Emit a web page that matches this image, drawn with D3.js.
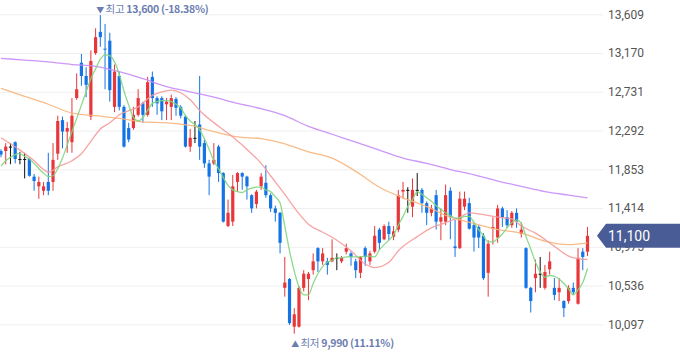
<!DOCTYPE html>
<html><head><meta charset="utf-8">
<script src="https://cdn.jsdelivr.net/npm/d3@7"></script>
<style>
html,body{margin:0;padding:0;background:#fff;}
svg{display:block;}
</style></head>
<body>
<svg id="chart" width="680" height="358"></svg>
<script>
// ---- data ----
const days = d3.range(1, 126);
const open = [12060,12060,12110,12160,11970,11970,11970,11770,11660,11610,11710,11710,12030,12410,12280,12160,12660,13060,12910,12450,13170,13410,13220,13310,12560,12910,12560,12320,12320,12470,12600,12470,12900,12660,12660,12590,12560,12650,12560,12450,12110,12210,12360,12150,11920,11920,12110,11810,11210,11260,11710,11810,11770,11560,11460,11660,11700,11560,11410,11360,10510,10610,10070,10070,10510,10610,10710,10960,10810,10810,10810,10850,10810,10920,10900,10810,10680,10960,10810,10920,11170,11060,11210,11090,11170,11600,11620,11430,11620,11620,11470,11360,11560,11260,11260,11610,10980,10960,11430,11470,11220,11200,11100,10680,11180,11080,11410,11310,11220,11360,11120,10960,10510,10620,10670,10510,10720,10510,10460,10360,10360,10510,10330,10920,10920];
const high = [12080,12150,12150,12170,12050,12040,11980,11800,11770,11710,12040,12150,12460,12450,12390,12660,12940,13160,13010,13200,13450,13600,13500,13400,13040,12960,12580,12380,12560,12760,12620,12900,12960,12680,12680,12660,12700,12670,12580,12470,12310,12400,12910,12190,11960,12150,12130,11820,11510,11790,11820,11820,11780,11570,11620,11810,11900,11580,11440,11370,10860,10620,10280,10530,10710,10690,10900,10970,10960,10850,11060,10900,10870,11010,10920,10840,10870,10980,10930,11210,11190,11230,11260,11210,11620,11710,11650,11750,11810,11640,11490,11450,11620,11410,11680,11650,11280,11600,11600,11530,11250,11220,11130,11050,11310,11450,11430,11390,11380,11410,11250,10970,10520,10830,10860,10770,10920,10620,10620,10370,10540,10570,10960,10960,11200];
const low = [11990,11910,11910,11920,11910,11750,11770,11610,11520,11560,11560,11610,11960,12090,12040,12040,12640,12800,12670,12410,13150,13240,12760,12620,12500,12520,12100,12160,12300,12450,12380,12450,12560,12470,12410,12410,12410,12460,12430,12100,12050,12150,11960,11870,11560,11900,11710,11250,11200,11210,11600,11620,11510,11360,11410,11620,11530,11370,11260,10900,10410,10090,9990,10060,10470,10370,10660,10690,10770,10660,10800,10710,10790,10890,10760,10620,10620,10760,10770,10900,10940,11050,11050,11050,11140,11520,11360,11310,11550,11360,11220,11320,11170,11050,11220,11060,10860,10950,11390,11170,10920,10960,10600,10410,11000,11020,11200,11190,11190,11190,11080,10500,10230,10460,10510,10490,10660,10370,10360,10180,10330,10430,10320,10710,10870];
const close = [12020,12110,12110,11970,11970,11970,11780,11720,11710,11660,11610,11960,12400,12280,12320,12460,12760,12910,12810,13080,13350,13350,13220,12750,12960,12560,12110,12190,12470,12660,12470,12840,12660,12600,12510,12620,12660,12550,12460,12110,12210,12210,12110,11920,11770,11960,11810,11260,11360,11660,11810,11770,11660,11410,11600,11770,11560,11410,11360,11020,10570,10110,10210,10510,10670,10670,10810,10810,10900,10770,10850,10850,10850,10960,10860,10710,10860,10860,10900,11100,11020,11210,11120,11150,11560,11620,11620,11620,11620,11470,11360,11410,11260,11310,11560,11310,10960,11520,11520,11180,11080,11080,10620,11010,11200,11410,11310,11220,11360,11260,11170,10510,10360,10670,10670,10690,10810,10430,10510,10280,10510,10460,10850,10860,11100];

// moving averages
const ma5 = [11890,11950,11990,12020,12030,12000,11970,11920,11860,11810,11770,11780,11860,11980,12130,12280,12430,12580,12730,12880,12990,13100,13150,13140,13070,12930,12740,12580,12440,12400,12440,12520,12600,12620,12630,12630,12620,12590,12550,12460,12400,12360,12300,12200,12080,11950,11860,11760,11670,11620,11600,11590,11620,11640,11650,11650,11620,11600,11540,11470,11210,10930,10700,10520,10430,10430,10560,10670,10750,10800,10820,10850,10850,10860,10860,10860,10860,10870,10870,10860,10940,11000,11050,11110,11220,11320,11430,11510,11600,11570,11530,11490,11440,11400,11360,11330,11300,11300,11320,11320,11250,11170,11100,11030,11030,11070,11120,11190,11250,11280,11240,11090,10950,10800,10690,10630,10650,10640,10610,10560,10500,10430,10490,10570,10730];
const ma20Idx = [0,4,7,9,10,12,15,17,19,21,23,25,29,32,34,36,38,40,42,46,49,53,55,57,60,63,65,68,71,74,77,79,82,84,88,91,93,97,99,102,105,108,110,113,117,120,122,124];
const ma20 = [12210,12070,11950,11850,11820,11880,11950,12030,12170,12310,12380,12470,12560,12690,12730,12750,12720,12640,12520,12340,12220,12030,11920,11780,11570,11350,11230,11140,11050,10930,10780,10740,10800,10930,11090,11190,11230,11310,11360,11340,11310,11290,11210,11130,10980,10870,10840,10830];
const maLongIdx = [0,5,10,15,20,25,30,35,40,45,50,55,60,65,70,75,80,85,90,95,100,105,110,115,120,124];
const ma60 = [12770,12680,12590,12490,12460,12430,12390,12380,12350,12280,12220,12200,12140,12050,11980,11830,11650,11530,11430,11310,11240,11170,11130,11040,11000,11020];
const ma120 = [13110,13090,13070,13040,13020,12960,12880,12790,12730,12670,12600,12540,12460,12340,12250,12160,12070,11980,11920,11850,11790,11720,11660,11600,11560,11530];

const yTicks = [13609,13170,12731,12292,11853,11414,10975,10536,10097];
const yTickLabels = ["13,609","13,170","12,731","12,292","11,853","11,414","10,975","10,536","10,097"];

// ---- chart ----
const svg = d3.select("#chart");
const plotRight = 603;
const x = d3.scalePoint().domain(days).range([1, 587.5]);
const y = d3.scaleLinear().domain([10097, 13609]).range([324.3, 14.3]);

// grid + axis labels
const axis = d3.axisRight(y).tickValues(yTicks)
  .tickFormat((d,i) => yTickLabels[i]).tickSize(plotRight).tickPadding(5);
const gAxis = svg.append("g").call(axis);
gAxis.select(".domain").remove();
gAxis.selectAll(".tick line").attr("stroke","#efefef").attr("stroke-width",1);
gAxis.selectAll(".tick text").attr("fill","#555").attr("font-size","12px")
  .attr("font-family","Roboto, 'Liberation Sans', sans-serif");

const candles = days.map((d,i) => ({d, o:open[i], h:high[i], l:low[i], c:close[i], pc: i>0?close[i-1]:open[i]}));
const colorOf = k => k.c > k.o ? "#e8373a" : k.c < k.o ? "#1474e6" : (k.c > k.pc ? "#e8373a" : k.c < k.pc ? "#1474e6" : "#111");

const gC = svg.append("g");
gC.selectAll("line.wick").data(candles).join("line")
  .attr("x1", k => x(k.d)).attr("x2", k => x(k.d))
  .attr("y1", k => y(k.h)).attr("y2", k => y(k.l))
  .attr("stroke", colorOf).attr("stroke-width", 1);
gC.selectAll("rect.body").data(candles).join("rect")
  .attr("x", k => x(k.d) - 1.6).attr("width", 3.2)
  .attr("y", k => Math.min(y(k.o), y(k.c)))
  .attr("height", k => Math.max(1, Math.abs(y(k.o) - y(k.c))))
  .attr("fill", colorOf);

// moving averages
function drawMA(idx, vals, color){
  const pts = idx.map((k,i) => [x(days[k]), y(vals[i])]);
  svg.append("path").attr("d", d3.line().curve(d3.curveMonotoneX)(pts))
    .attr("fill","none").attr("stroke", color).attr("stroke-width", 1.3).attr("stroke-opacity", 0.9);
}
drawMA(maLongIdx, ma120, "#c78cf7");
drawMA(maLongIdx, ma60, "#f8b57c");
drawMA(ma20Idx, ma20, "#f59a9a");
drawMA(d3.range(ma5.length), ma5, "#7fd67f");

// high / low annotations
const last = close[close.length-1];
const hiI = d3.maxIndex(high), loI = d3.minIndex(low);
const pct = v => ((last - v) / v * 100).toFixed(2) + "%";
const fmt = d3.format(",");
const annColor = "#6b7db0";
function annot(xp, yp, mark, word, val){
  const t = svg.append("text").attr("x", xp).attr("y", yp)
    .attr("font-family","'Noto Sans CJK KR', sans-serif").attr("font-size","10.5px")
    .attr("letter-spacing","-0.3px").attr("fill", annColor);
  t.append("tspan").attr("font-size","8px").text(mark + " ");
  t.append("tspan").text(word + " ");
  t.append("tspan").attr("font-weight","bold").text(fmt(val) + " (" + pct(val) + ")");
}
annot(x(days[hiI]) - 4, 13, "▼", "최고", high[hiI]);
annot(x(days[loI]) - 3, 347, "▲", "최저", low[loI]);

// current price tag
const yc = y(last), th = 24;
svg.append("path")
  .attr("d", `M597,${yc} L606,${yc-th/2} L680,${yc-th/2} L680,${yc+th/2} L606,${yc+th/2} Z`)
  .attr("fill","#4a5c96");
svg.append("text").attr("x", 608).attr("y", yc).attr("dy","0.36em")
  .attr("fill","#fff").attr("font-size","14px")
  .attr("font-family","Roboto, 'Liberation Sans', sans-serif")
  .text(fmt(last));
</script>
</body></html>
